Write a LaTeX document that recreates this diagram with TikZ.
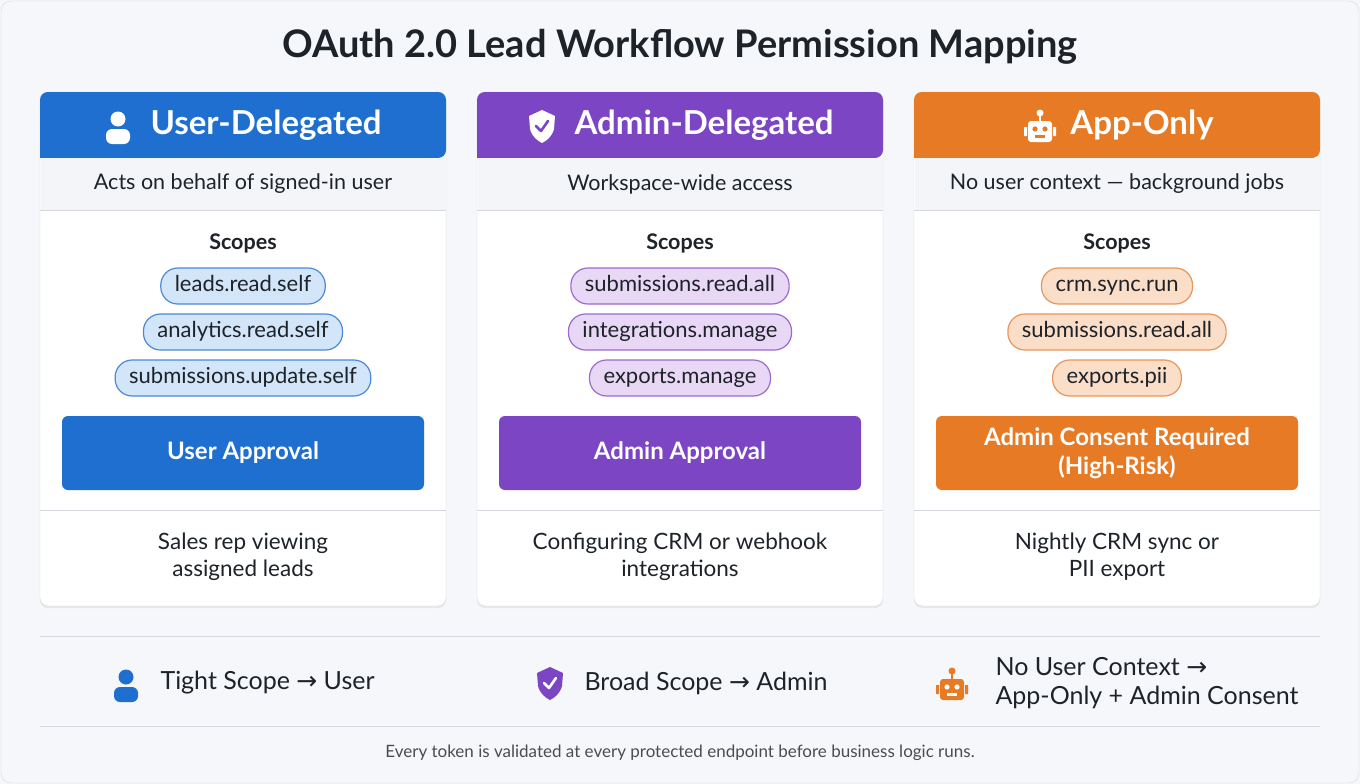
\documentclass[tikz,border=0pt]{standalone}
\usepackage{fontspec}
\setmainfont{Lato}
\newfontfamily\symfont{DejaVu Sans}
\usetikzlibrary{positioning,shadows}
\definecolor{userblue}{HTML}{1E6FD0}
\definecolor{userpill}{HTML}{D3E5F9}
\definecolor{userline}{HTML}{4A8AD8}
\definecolor{adminpurple}{HTML}{7B45C4}
\definecolor{adminpill}{HTML}{E8D8F6}
\definecolor{adminline}{HTML}{9B6BD0}
\definecolor{apporange}{HTML}{E67A25}
\definecolor{apppill}{HTML}{FBDEC8}
\definecolor{appline}{HTML}{E8955A}
\definecolor{pagebg}{HTML}{F5F7FA}
\definecolor{bandbg}{HTML}{F3F5F8}
\definecolor{rulegray}{HTML}{D5D9DF}
\definecolor{inkdark}{HTML}{1E2329}
\tikzset{
card/.style = {fill=white, draw=rulegray, rounded corners=8pt, drop shadow={opacity=0.12, shadow xshift=0pt, shadow yshift=-2pt}},
subtxt/.style = {font=\fontsize{21.5}{26}\selectfont, text=inkdark},
scopelbl/.style = {font=\fontsize{21.5}{26}\selectfont\bfseries, text=inkdark},
pill/.style = {draw=#1line, fill=#1pill, rounded corners=17pt, line width=1.2pt, minimum height=36pt, inner xsep=14pt, text height=15pt, text depth=5pt, font=\fontsize{22}{26}\selectfont, text=inkdark},
approve/.style = {fill=#1, rounded corners=6pt, minimum width=362pt, minimum height=74pt, text=white, align=center, font=\fontsize{24}{29}\selectfont\bfseries},
headtxt/.style = {text=white, font=\fontsize{33}{38}\selectfont\bfseries},
legtxt/.style = {font=\fontsize{25}{29}\selectfont, text=inkdark, align=left, anchor=west}
}
\newcommand\personicon[2]{% position, colour
  \begin{scope}[shift={#1}]
    \fill[#2] (0,-8) circle (7.5);
    \fill[#2, rounded corners=6pt] (-12,17) rectangle (12,2);
  \end{scope}}
\newcommand\shieldicon[3]{% position, colour, check colour
  \begin{scope}[shift={#1}]
    \fill[#2] (0,-16) -- (13,-10) -- (12,3) .. controls (10,11) and (4,15) .. (0,17) .. controls (-4,15) and (-10,11) .. (-12,3) -- (-13,-10) -- cycle;
    \draw[#3, line width=2.6pt, line cap=round, line join=round] (-6,0) -- (-1,5) -- (6,-5);
  \end{scope}}
\newcommand\roboticon[3]{% position, colour, face colour
  \begin{scope}[shift={#1}]
    \draw[#2, line width=2pt] (0,-6) -- (0,-12);
    \fill[#2] (0,-14) circle (3.5);
    \fill[#2, rounded corners=3pt] (-12,-6) rectangle (12,15);
    \fill[#2] (-16,0) rectangle (-13,9) (13,0) rectangle (16,9);
    \fill[#3] (-5,2) circle (2.6) (5,2) circle (2.6);
    \fill[#3] (-5,8) rectangle (5,10.5);
  \end{scope}}
\begin{document}
\begin{tikzpicture}[x=1pt, y=-1pt]
\fill[pagebg] (0,0) rectangle (1360,784);
\draw[rulegray, rounded corners=10pt] (1,1) rectangle (1359,783);
\node[font=\fontsize{38}{44}\selectfont\bfseries, text=inkdark] (title) at (680,47) {OAuth 2.0 Lead Workflow Permission Mapping};

% three cards
\foreach \x/\col/\pl/\head/\sub/\sa/\sb/\sc/\btn/\ua/\ub [count=\i] in {
  40/userblue/user/User-Delegated/Acts on behalf of signed-in user/leads.read.self/analytics.read.self/submissions.update.self/User Approval/Sales rep viewing/assigned leads,
  477/adminpurple/admin/Admin-Delegated/Workspace-wide access/submissions.read.all/integrations.manage/exports.manage/Admin Approval/Configuring CRM or webhook/integrations,
  914/apporange/app/App-Only/No user context --- background jobs/crm.sync.run/submissions.read.all/exports.pii/{Admin Consent Required\\(High-Risk)}/Nightly CRM sync or/PII export}{
  \pgfmathsetmacro\cx{\x+203}
  \draw[card] (\x,92) rectangle (\x+406,606);
  \fill[\col, rounded corners=8pt] (\x,158) -- (\x,92) -- (\x+406,92) -- (\x+406,158) [sharp corners] -- cycle;
  \fill[bandbg] (\x+0.5,158) rectangle (\x+405.5,210);
  \draw[rulegray] (\x,210) -- (\x+406,210) (\x,510) -- (\x+406,510);
  \node[subtxt] (sub\i) at (\cx,184) {\sub};
  \node[scopelbl] (lbl\i) at (\cx,243) {Scopes};
  \node[pill=\pl] (sa\i) at (\cx,286) {\sa};
  \node[pill=\pl] (sb\i) at (\cx,332) {\sb};
  \node[pill=\pl] (sc\i) at (\cx,378) {\sc};
  \node[approve=\col] (btn\i) at (\cx,453) {\btn};
  \node[subtxt, align=center, font=\fontsize{22.5}{27}\selectfont] (use\i) at (\cx,557) {\ua\\\ub};
}

% headers with icons
\node[headtxt] (hdA) at (266,125) {User-Delegated};
\personicon{(118,127)}{white}
\node[headtxt] (hdB) at (704,125) {Admin-Delegated};
\shieldicon{(542,126)}{white}{adminpurple}
\node[headtxt] (hdC) at (1142,125) {App-Only};
\roboticon{(1040,127)}{white}{apporange}

% legend
\draw[rulegray, line width=1pt] (40,636) -- (1320,636) (40,726) -- (1320,726);
\personicon{(126,685)}{userblue}
\node[legtxt] (legA) at (157,683) {Tight Scope {\symfont→} User};
\shieldicon{(550,683)}{adminpurple}{white}
\node[legtxt] (legB) at (581,683) {Broad Scope {\symfont→} Admin};
\roboticon{(952,685)}{apporange}{white}
\node[legtxt, font=\fontsize{25}{29}\selectfont] (legC) at (992,683) {No User Context {\symfont→}\\App-Only + Admin Consent};

\node[font=\fontsize{17}{20}\selectfont, text=black!70] (foot) at (680,753) {Every token is validated at every protected endpoint before business logic runs.};
\end{tikzpicture}
\end{document}
